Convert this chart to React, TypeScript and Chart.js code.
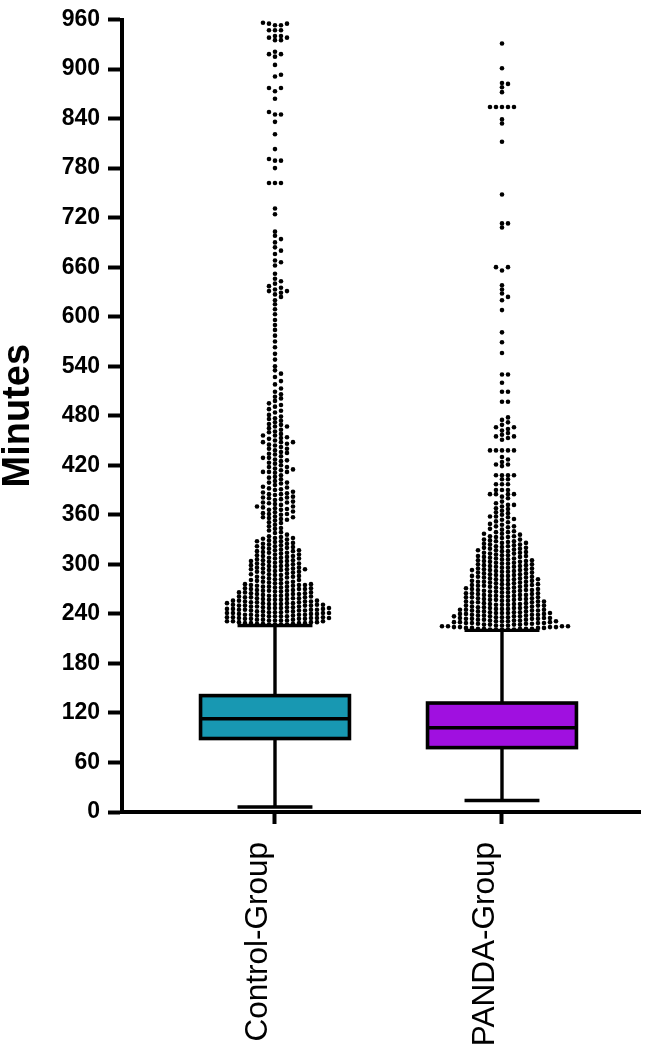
import React, { useEffect, useRef } from 'react';
import { Chart, registerables } from 'chart.js';

Chart.register(...registerables);

// Groups on the x axis
const groupLabels = ['Control-Group', 'PANDA-Group'];
const groupPositions = [1, 2];

// Box-plot summary (minutes)
const whiskerLow = [6, 14];
const quartile1 = [89, 78];
const medians = [113, 102];
const quartile3 = [141, 132];
const whiskerHigh = [226, 220];
const boxFills = ['#1898B2', '#A010E0'];

// Y axis tick labels (minutes)
const yTickValues = [0, 60, 120, 180, 240, 300, 360, 420, 480, 540, 600, 660, 720, 780, 840, 900, 960];

// Outliers as [minutes, number of cases]
const controlOutliers: [number, number][] = [
  [227, 4], [228, 3], [229, 4], [230, 3], [231, 3], [232, 4], [233, 3], [234, 4], [235, 4], [236, 3],
  [237, 4], [238, 3], [239, 4], [240, 3], [241, 4], [242, 3], [243, 4], [244, 3], [245, 4], [246, 3],
  [247, 4], [248, 3], [249, 3], [250, 4], [251, 3], [252, 3], [253, 4], [254, 3], [255, 3], [256, 3],
  [257, 3], [258, 2], [259, 3], [260, 3], [261, 2], [262, 3], [263, 2], [264, 3], [265, 2], [266, 3],
  [267, 2], [268, 3], [269, 2], [270, 3], [271, 2], [272, 2], [273, 3], [274, 2], [275, 3], [276, 2],
  [277, 2], [278, 2], [279, 2], [280, 1], [281, 2], [282, 2], [283, 1], [284, 2], [285, 2], [286, 1],
  [287, 2], [288, 2], [289, 1], [290, 2], [291, 2], [292, 1], [293, 2], [294, 3], [295, 2], [296, 2],
  [297, 1], [298, 2], [299, 2], [300, 2], [301, 2], [302, 1], [303, 2], [304, 2], [305, 2], [306, 1],
  [307, 2], [308, 2], [309, 1], [310, 2], [311, 1], [312, 2], [313, 1], [314, 2], [315, 1], [316, 2],
  [317, 2], [318, 1], [319, 1], [320, 2], [321, 1], [322, 2], [323, 1], [324, 1], [325, 2], [326, 1],
  [327, 1], [328, 2], [329, 1], [330, 1], [331, 1], [332, 2], [333, 1], [334, 1],
  [336, 1], [338, 1], [339, 1], [341, 1], [343, 1], [344, 1], [346, 1], [348, 1], [350, 1], [351, 1],
  [353, 1], [354, 1], [355, 1], [356, 1], [357, 2], [358, 1], [360, 1], [361, 2], [362, 1], [363, 1],
  [364, 1], [366, 2], [367, 1], [368, 1], [369, 1], [370, 2], [372, 1], [373, 1], [374, 1], [375, 2],
  [376, 1], [378, 1], [379, 1], [380, 1], [381, 2], [382, 1], [384, 1], [385, 2], [386, 1], [387, 1],
  [388, 1], [390, 1], [391, 1], [392, 1], [393, 1], [394, 1],
  [396, 1], [398, 1], [399, 2], [401, 1], [403, 1], [405, 1], [406, 1], [408, 1],
  [411, 1], [412, 3], [414, 1], [415, 1], [416, 1], [418, 2], [420, 1], [422, 1], [423, 1], [425, 1],
  [426, 1], [427, 1], [429, 2], [431, 1], [433, 1], [434, 1], [435, 1], [436, 1], [438, 1], [440, 2],
  [442, 1], [444, 1], [445, 1], [446, 1], [448, 3], [450, 1], [452, 1], [453, 1], [454, 1], [456, 2],
  [458, 1], [460, 1], [461, 1], [463, 1], [465, 1], [467, 2], [469, 1], [470, 1], [472, 1], [474, 1],
  [476, 1], [477, 1], [479, 1], [481, 1],
  [484, 1], [486, 1], [488, 1], [491, 1], [493, 1], [495, 1], [498, 1], [501, 1], [503, 1], [506, 1],
  [509, 1], [513, 1], [518, 1], [522, 1], [527, 1], [531, 1], [535, 1], [540, 1],
  [548, 1], [555, 1], [563, 1], [570, 1], [577, 1], [584, 1], [590, 1], [596, 1], [603, 1], [609, 1],
  [615, 1], [620, 1], [624, 1], [627, 1], [629, 1], [631, 2], [633, 1], [635, 1], [637, 1], [640, 1],
  [643, 1], [646, 1], [652, 1], [662, 1], [666, 1], [668, 1], [676, 1], [680, 1], [684, 1], [690, 1],
  [694, 1], [698, 1], [703, 1], [724, 1], [731, 1], [762, 3], [780, 1], [789, 2], [791, 1], [803, 1],
  [821, 1], [836, 1], [845, 2], [848, 1], [864, 1], [873, 1], [877, 2], [891, 1], [893, 1], [905, 1],
  [915, 1], [918, 2], [921, 1], [935, 2], [938, 2], [940, 2], [947, 3], [953, 2], [955, 2], [956, 1],
];

const pandaOutliers: [number, number][] = [
  [221, 5], [222, 5], [223, 4], [224, 4], [225, 4],
  [226, 3], [227, 4], [228, 3], [229, 4], [230, 3], [231, 4], [232, 3], [233, 3], [234, 4], [235, 3],
  [236, 3], [237, 4], [238, 3], [239, 3], [240, 3], [241, 4], [242, 3], [243, 3], [244, 3], [245, 3],
  [246, 3], [247, 3], [248, 3], [249, 2], [250, 3], [251, 3], [252, 3], [253, 2], [254, 3], [255, 3],
  [256, 2], [257, 3], [258, 3], [259, 2], [260, 3], [261, 2], [262, 3], [263, 3], [264, 2], [265, 3],
  [266, 2], [267, 3], [268, 2], [269, 3], [270, 2], [271, 3], [272, 2], [273, 2], [274, 3], [275, 2],
  [276, 3], [277, 2], [278, 2], [279, 3], [280, 2], [281, 2], [282, 3], [283, 2], [284, 2], [285, 2],
  [286, 3], [287, 2], [288, 2], [289, 2], [290, 2], [291, 2], [292, 2], [293, 3], [294, 2], [295, 2],
  [296, 2], [297, 2], [298, 2], [299, 2], [300, 2], [301, 2], [302, 2], [303, 2], [304, 2], [305, 2],
  [306, 2], [307, 2], [308, 1], [309, 2], [310, 2], [311, 2], [312, 1], [313, 2], [314, 2], [315, 1],
  [316, 2], [317, 2], [318, 1], [319, 2], [320, 2], [321, 1], [322, 2], [323, 1], [324, 2], [325, 1],
  [326, 2], [327, 1], [328, 2], [329, 1], [330, 2], [332, 1], [333, 2], [334, 2], [336, 1], [337, 2],
  [339, 2], [340, 1], [342, 1], [343, 1], [345, 1], [346, 2], [348, 1], [349, 1],
  [351, 1], [352, 1], [354, 1], [355, 1], [357, 1], [358, 2], [360, 1], [362, 1], [363, 1], [365, 1],
  [367, 1], [368, 1], [370, 1], [372, 2], [374, 1], [376, 1],
  [380, 1], [382, 1], [385, 4], [390, 3], [397, 3], [403, 2], [408, 4],
  [419, 1], [421, 2], [424, 1], [427, 1], [430, 1], [438, 5],
  [451, 1], [453, 1], [455, 2], [457, 1], [459, 1], [462, 1], [464, 1], [466, 2], [469, 1], [472, 1],
  [475, 1], [478, 1],
  [497, 2], [509, 2], [520, 1], [530, 2], [556, 1], [569, 1], [581, 1], [608, 1],
  [620, 1], [624, 1], [628, 1], [633, 1], [638, 1], [656, 1], [660, 2], [708, 1], [713, 2], [748, 1],
  [812, 1], [834, 1], [839, 1], [854, 5], [872, 1], [878, 1], [882, 1], [883, 1], [901, 1], [931, 1],
];

const outlierSets = [controlOutliers, pandaOutliers];

const FONT = '"Liberation Sans", Arial, Helvetica, sans-serif';
const BOX_WIDTH = 0.656; // in x units
const CAP_WIDTH = 0.33;
const DOT_RADIUS = 2.3;
const SLOT_PX = 6;
const STACK_GAP_PX = 4;

type Dot = { x: number; y: number };

// Column-based swarm: each case sits in the nearest free column around the centre
function layoutSwarm(entries: [number, number][], yScale: any, cx: number): Dot[] {
  const values: number[] = [];
  entries.forEach(([minutes, n]) => {
    for (let k = 0; k < n; k++) values.push(minutes);
  });
  values.sort((a, b) => a - b);
  const lastInSlot = new Map<number, number>();
  return values.map((v) => {
    const py = yScale.getPixelForValue(v);
    for (let i = 0; ; i++) {
      const slot = i === 0 ? 0 : i % 2 === 1 ? (i + 1) / 2 : -i / 2;
      const last = lastInSlot.get(slot);
      if (last === undefined || last - py >= STACK_GAP_PX) {
        lastInSlot.set(slot, py);
        return { x: cx + slot * SLOT_PX, y: py };
      }
    }
  });
}

const boxPlotPlugin = {
  id: 'boxPlotWithOutliers',
  afterDatasetsDraw(chart: any) {
    const { ctx } = chart;
    const x = chart.scales.x;
    const y = chart.scales.y;
    ctx.save();
    groupPositions.forEach((pos, i) => {
      const cx = x.getPixelForValue(pos);
      const halfBox = x.getPixelForValue(pos + BOX_WIDTH / 2) - cx;
      const halfCap = x.getPixelForValue(pos + CAP_WIDTH / 2) - cx;
      const yLow = y.getPixelForValue(whiskerLow[i]);
      const yQ1 = y.getPixelForValue(quartile1[i]);
      const yMed = y.getPixelForValue(medians[i]);
      const yQ3 = y.getPixelForValue(quartile3[i]);
      const yHigh = y.getPixelForValue(whiskerHigh[i]);

      ctx.strokeStyle = '#000';
      ctx.lineCap = 'butt';
      ctx.lineWidth = 3.4;
      ctx.beginPath();
      ctx.moveTo(cx, yLow);
      ctx.lineTo(cx, yQ1);
      ctx.moveTo(cx, yQ3);
      ctx.lineTo(cx, yHigh);
      ctx.moveTo(cx - halfCap, yLow);
      ctx.lineTo(cx + halfCap, yLow);
      ctx.moveTo(cx - halfCap, yHigh);
      ctx.lineTo(cx + halfCap, yHigh);
      ctx.stroke();

      ctx.fillStyle = boxFills[i];
      ctx.fillRect(cx - halfBox, yQ3, halfBox * 2, yQ1 - yQ3);
      ctx.lineWidth = 3.6;
      ctx.strokeRect(cx - halfBox, yQ3, halfBox * 2, yQ1 - yQ3);
      ctx.beginPath();
      ctx.moveTo(cx - halfBox, yMed);
      ctx.lineTo(cx + halfBox, yMed);
      ctx.stroke();

      ctx.fillStyle = '#000';
      layoutSwarm(outlierSets[i], y, cx).forEach((d) => {
        ctx.beginPath();
        ctx.arc(d.x, d.y, DOT_RADIUS, 0, Math.PI * 2);
        ctx.fill();
      });
    });
    ctx.restore();
  },
};

export default function App() {
  const canvasRef = useRef<HTMLCanvasElement | null>(null);

  useEffect(() => {
    if (!canvasRef.current) return;
    const chart = new Chart(canvasRef.current, {
      type: 'scatter',
      data: { datasets: [] },
      options: {
        responsive: false,
        animation: false,
        events: [],
        layout: { padding: { top: 12, right: 21, bottom: 0, left: 0 } },
        plugins: { legend: { display: false }, tooltip: { enabled: false } },
        scales: {
          x: {
            type: 'linear',
            min: 0.326,
            max: 2.608,
            afterBuildTicks: (s: any) => {
              s.ticks = groupPositions.map((v) => ({ value: v }));
            },
            afterFit: (s: any) => {
              s.height = 237;
            },
            border: { display: true, color: '#000', width: 4 },
            grid: {
              display: true,
              drawOnChartArea: false,
              drawTicks: true,
              tickLength: 12,
              tickWidth: 4,
              tickColor: '#000',
            },
            ticks: {
              autoSkip: false,
              minRotation: 90,
              maxRotation: 90,
              padding: 18,
              labelOffset: -17,
              color: '#000',
              font: { family: FONT, size: 31.5, weight: 'normal', lineHeight: 1.2 },
              callback: (v: any) => {
                const idx = groupPositions.indexOf(Number(v));
                return idx >= 0 ? groupLabels[idx] : '';
              },
            },
          },
          y: {
            type: 'linear',
            min: 0,
            max: 960,
            afterBuildTicks: (s: any) => {
              s.ticks = yTickValues.map((v) => ({ value: v }));
            },
            afterFit: (s: any) => {
              s.width = 122;
            },
            border: { display: true, color: '#000', width: 4 },
            grid: {
              display: true,
              drawOnChartArea: false,
              drawTicks: true,
              tickLength: 14,
              tickWidth: 4,
              tickColor: '#000',
            },
            ticks: {
              padding: 8,
              color: '#000',
              font: { family: FONT, size: 23, weight: 'bold', lineHeight: 1 },
            },
            title: {
              display: true,
              text: 'Minutes',
              color: '#000',
              font: { family: FONT, size: 38, weight: 'bold', lineHeight: 1 },
              padding: { top: 0, bottom: 0 },
            },
          },
        },
      } as any,
      plugins: [boxPlotPlugin],
    });
    return () => chart.destroy();
  }, []);

  return (
    <div style={{ position: 'absolute', left: 0, top: 0, width: 661, height: 1049, background: '#fff' }}>
      <canvas ref={canvasRef} width={661} height={1049} />
    </div>
  );
}
